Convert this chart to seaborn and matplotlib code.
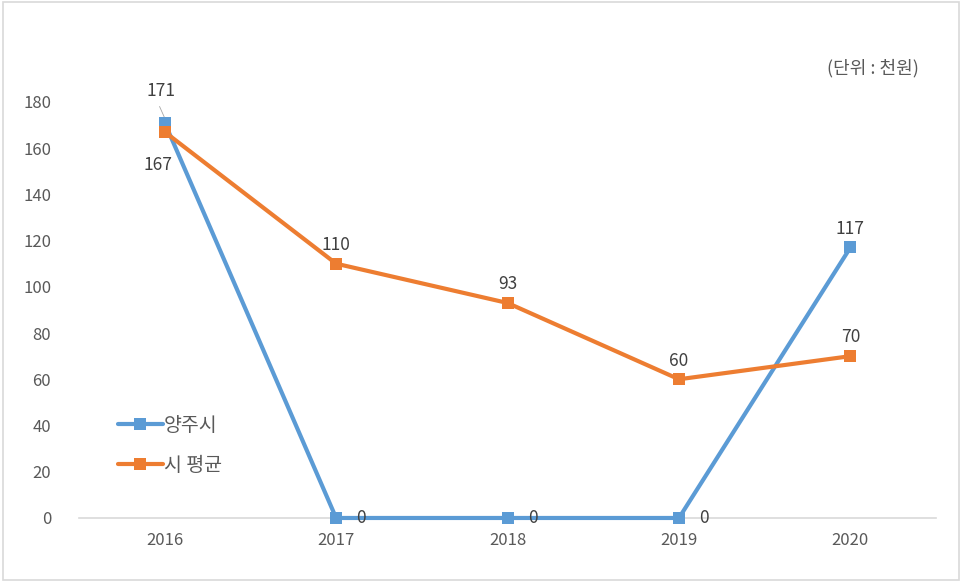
import matplotlib
matplotlib.use('Agg')
import matplotlib.pyplot as plt
import seaborn as sns
import pandas as pd
from matplotlib.patches import Rectangle

years = ['2016', '2017', '2018', '2019', '2020']
yangju = [171, 0, 0, 0, 117]
city_avg = [167, 110, 93, 60, 70]
series_names = ['양주시', '시 평균']
colors = ['#5B9BD5', '#ED7D31']

sns.set_style('white')
plt.rcParams['font.family'] = ['Noto Sans CJK KR', 'DejaVu Sans']

df = pd.DataFrame({
    'year': years * 2,
    'value': yangju + city_avg,
    'series': [series_names[0]] * 5 + [series_names[1]] * 5,
})

fig = plt.figure(figsize=(9.62, 5.82), dpi=100)
ax = fig.add_axes([0.0821, 0.110, 0.891, 0.715])

sns.lineplot(data=df, x='year', y='value', hue='series', palette=colors,
             marker='s', markersize=8.5, markeredgewidth=0, linewidth=3.0,
             ax=ax)
for ln in ax.lines:
    ln.set_clip_on(False)
    ln.set_zorder(3)

ax.set_xlim(-0.5, 4.5)
ax.set_ylim(0, 180)
ax.set_yticks(range(0, 181, 20))
ax.set_xlabel('')
ax.set_ylabel('')
for s in ['top', 'right', 'left']:
    ax.spines[s].set_visible(False)
ax.spines['bottom'].set_color('#D9D9D9')
ax.spines['bottom'].set_linewidth(1.2)
ax.spines['bottom'].set_zorder(1)
ax.tick_params(axis='both', length=0, labelsize=12, colors='#595959', pad=10)
ax.tick_params(axis='y', pad=20)

lab = dict(fontsize=12.5, color='#404040', ha='center')
# blue labels
ax.annotate(str(yangju[0]), (0, yangju[0]), xytext=(-3, 16), textcoords='offset points', va='bottom', **lab)
ax.plot([-0.03, 0.0], [yangju[0] + 7, yangju[0] + 2], color='#A6A6A6', lw=0.6, clip_on=False)
for i in range(1, 4):
    ax.annotate(str(yangju[i]), (i, yangju[i]), xytext=(18, 0), textcoords='offset points', va='center', **lab)
ax.annotate(str(yangju[4]), (4, yangju[4]), xytext=(0, 7), textcoords='offset points', va='bottom', **lab)
# orange labels
ax.annotate(str(city_avg[0]), (0, city_avg[0]), xytext=(-5, -17), textcoords='offset points', va='top', **lab)
for i in range(1, 5):
    ax.annotate(str(city_avg[i]), (i, city_avg[i]), xytext=(0, 7), textcoords='offset points', va='bottom', **lab)

ax.legend(loc='lower left', bbox_to_anchor=(0.025, 0.06), frameon=False, fontsize=14,
          handlelength=2.3, handletextpad=0.05, labelspacing=0.95, labelcolor='#595959')

fig.text(0.955, 0.882, '(단위 : 천원)', ha='right', va='center', fontsize=13, color='#595959')
fig.patches.append(Rectangle((0.003, 0.004), 0.994, 0.992, transform=fig.transFigure,
                             fill=False, edgecolor='#D9D9D9', lw=1.2))

fig.savefig('out.png', dpi=100)
